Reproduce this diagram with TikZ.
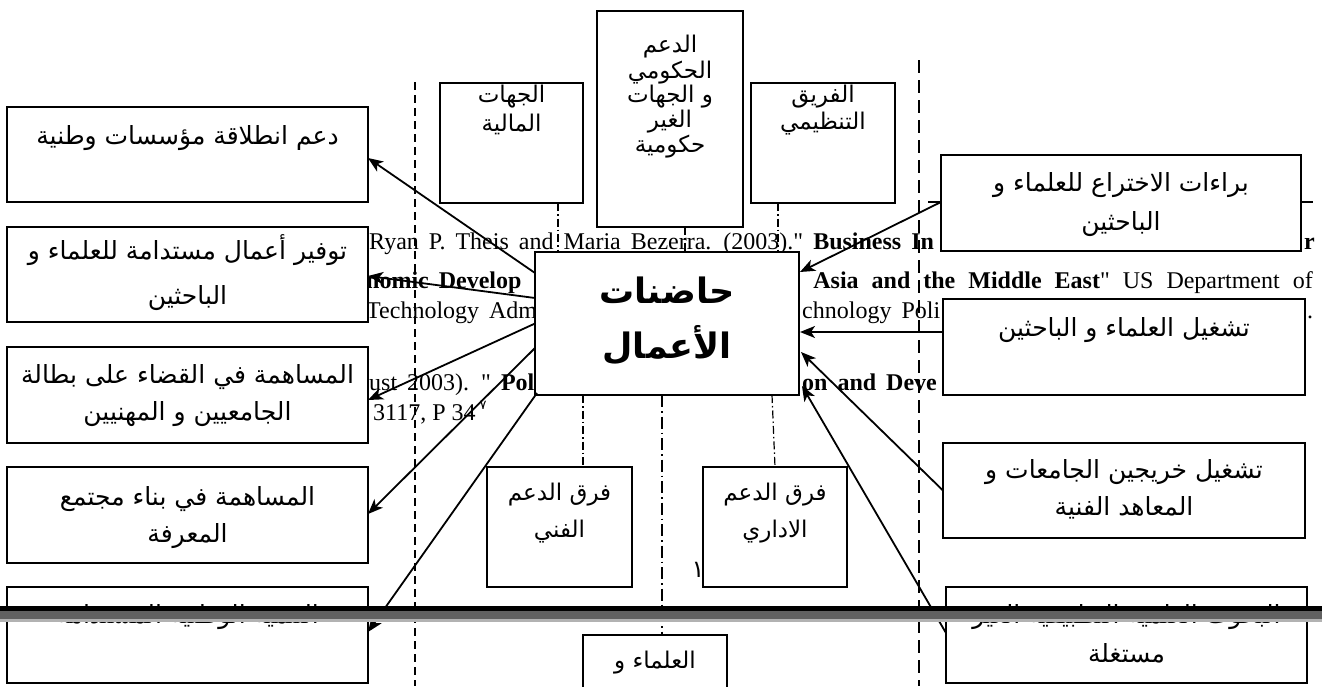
\documentclass[tikz,border=0pt]{standalone}
\usepackage{fontspec}
\setmainfont{Liberation Serif}[Ligatures=TeXOff]
\newfontfamily\arfont[Script=Arabic]{DejaVu Sans}
\TeXXeTstate=1
\usetikzlibrary{arrows.meta,calc}
\pgfdeclarelayer{bg}
\pgfsetlayers{bg,main}
\newcommand\BX[5]{\node[boxst,minimum width={(#4)-(#2)},minimum height={(#5)-(#3)}] (#1) at ({((#2)+(#4))/2},{((#3)+(#5))/2}) {};}
\newcommand\TL[4]{\node[artx] (#1) at (#2,#3) {#4};}
\newcommand\TS[4]{\node[artx,artsm] (#1) at (#2,#3) {#4};}
\begin{document}
\begin{tikzpicture}[x=1pt,y=-1pt,
  boxst/.style={draw,line width=1.6pt,fill=white,inner sep=0pt,outer sep=0pt},
  artx/.style={font={\arfont\fontsize{25}{25}\selectfont},inner sep=0pt,anchor=center},
  artsm/.style={font={\arfont\fontsize{23}{23}\selectfont}},
  en/.style={font={\fontsize{24}{24}\selectfont\spaceskip=10pt\relax},inner sep=0pt,anchor=base west},
  arr/.style={line width=1.8pt,-{Stealth[length=15pt,width=12pt,inset=4pt]}},
  dd/.style={line width=1.2pt,dash pattern=on 8pt off 3pt on 1.5pt off 3pt},
  ddl/.style={line width=1.2pt,dash pattern=on 12pt off 4pt on 1.5pt off 4pt}]
\useasboundingbox (0,0) rectangle (1322,686);

% background: footnote text and stray lines
\begin{pgfonlayer}{bg}
\fill[white] (0,0) rectangle (1322,686);
\node[en] (eA1) at (369,249) {Ryan P. Theis and Maria Bezerra. (2003)." \textbf{Business In}};
\node[en] (eA2) at (1304,249) {\textbf{r}};
\node[en] (eB1) at (366,288) {\textbf{nomic Develop}};
\node[en,anchor=base east,font={\fontsize{24}{24}\selectfont\spaceskip=13pt\relax}] (eB2) at (1313,288) {\textbf{Asia and the Middle East}" US Department of};
\node[en] (eC1) at (366,318) {Technology Adm};
\node[en] (eC2) at (802,318) {chnology Poli};
\node[en] (eC3) at (1307,318) {.};
\node[en] (eD1) at (369,390) {ust 2003). " \textbf{Poli}};
\node[en] (eD2) at (802,390) {\textbf{on and Deve}};
\node[en,font={\fontsize{24}{24}\selectfont}] (eE1) at (373,420) {3117, P 34};
\node[inner sep=0pt,font={\arfont\fontsize{13}{13}\selectfont}] (sup7) at (483,405) {٧};
\node[inner sep=0pt,font={\arfont\fontsize{24}{24}\selectfont}] (one) at (698,570) {١};
\draw[line width=1.5pt] (928,202) -- (1313,202);
\draw[line width=1.1pt,dash pattern=on 8pt off 5pt] (415,82) -- (415,686);
\draw[line width=2pt,dash pattern=on 13pt off 7pt] (919,60) -- (919,686);
\end{pgfonlayer}

% boxes
\BX{b1}{7}{107}{368}{202}
\BX{b2}{7}{227}{368}{322}
\BX{b3}{7}{347}{368}{443}
\BX{b4}{7}{467}{368}{563}
\BX{b5}{7}{587}{368}{683}
\BX{fin}{440}{83}{583}{203}
\BX{gov}{597}{11}{743}{227}
\BX{org}{751}{83}{895}{203}
\BX{r1}{941}{155}{1301}{251}
\BX{r2}{943}{299}{1305}{395}
\BX{r3}{943}{443}{1305}{538}
\BX{r4}{946}{587}{1307}{683}
\BX{tech}{487}{467}{632}{587}
\BX{adm}{703}{467}{847}{587}
\BX{sci}{583}{635}{727}{705}
\BX{hub}{535}{252}{799}{395}

% texts
\TL{t1}{187.5}{138}{\beginR دعم انطلاقة مؤسسات وطنية\endR}
\TL{t2a}{187.5}{250}{\beginR توفير أعمال مستدامة للعلماء و\endR}
\TL{t2b}{187.5}{298}{\beginR الباحثين\endR}
\TL{t3a}{187.5}{377}{\beginR المساهمة في القضاء على بطالة\endR}
\TL{t3b}{187.5}{414}{\beginR الجامعيين و المهنيين\endR}
\TL{t4a}{187.5}{499}{\beginR المساهمة في بناء مجتمع\endR}
\TL{t4b}{187.5}{536}{\beginR المعرفة\endR}
\TL{t5a}{187.5}{617}{\beginR التنمية الوطنية المستدامة\endR}
\TS{tf1}{511.5}{97}{\beginR الجهات\endR}
\TS{tf2}{511.5}{124}{\beginR المالية\endR}
\TS{tg1}{670}{47}{\beginR الدعم\endR}
\TS{tg2}{670}{73}{\beginR الحكومي\endR}
\TS{tg3}{670}{97}{\beginR و الجهات\endR}
\TS{tg4}{670}{122}{\beginR الغير\endR}
\TS{tg5}{670}{147}{\beginR حكومية\endR}
\TS{to1}{823}{97}{\beginR الفريق\endR}
\TS{to2}{823}{124}{\beginR التنظيمي\endR}
\TL{tr1a}{1121}{185}{\beginR براءات الاختراع  للعلماء و\endR}
\TL{tr1b}{1121}{224}{\beginR الباحثين\endR}
\TL{tr2}{1124}{330}{\beginR تشغيل العلماء و الباحثين\endR}
\TL{tr3a}{1124}{472}{\beginR تشغيل خريجين الجامعات و\endR}
\TL{tr3b}{1124}{508}{\beginR المعاهد الفنية\endR}
\TL{tr4a}{1126.5}{617}{\beginR البحوث العلمية التطبيقية الغير\endR}
\TL{tr4b}{1126.5}{653}{\beginR مستغلة\endR}
\TS{tt1}{559.5}{495}{\beginR فرق الدعم\endR}
\TS{tt2}{559.5}{532}{\beginR الفني\endR}
\TS{ta1}{775}{495}{\beginR فرق الدعم\endR}
\TS{ta2}{775}{532}{\beginR الاداري\endR}
\TS{ts1}{655}{663}{\beginR العلماء و\endR}
\node[inner sep=0pt,font={\arfont\bfseries\fontsize{35}{35}\selectfont}] (h1) at (667,290) {\beginR حاضنات\endR};
\node[inner sep=0pt,font={\arfont\bfseries\fontsize{35}{35}\selectfont}] (h2) at (667,345) {\beginR الأعمال\endR};

% vertical link lines
\coordinate (p1) at ($(fin.south east)+(-25,0)$);
\coordinate (p2) at ($(gov.south)+(15,0)$);
\coordinate (p3) at ($(org.south west)+(27,0)$);
\draw[dd] (p1) -- (p1 |- hub.north);
\draw[dd] (p2) -- (p2 |- hub.north);
\draw[dd] (p3) -- (p3 |- hub.north);
\coordinate (q1) at ($(tech.north)+(23.5,0)$);
\coordinate (q2) at ($(sci.north)+(7,0)$);
\coordinate (q3) at ($(hub.south east)+(-27,0)$);
\draw[dd] (q1 |- hub.south) -- (q1);
\draw[ddl] (q2 |- hub.south) -- (q2);
\draw[dd] (q3) -- (adm.north);

% arrows
\draw[arr] ($(hub.north west)+(0,21)$) -- ($(b1.east)+(0,3.5)$);
\draw[arr] ($(hub.north west)+(0,46)$) -- ($(b2.east)+(0,1.5)$);
\draw[arr] (hub.west) -- ($(b3.east)+(0,5)$);
\draw[arr] ($(hub.north west)+(0,96)$) -- ($(b4.east)+(0,-1)$);
\draw[arr] ($(hub.south west)+(2,-2)$) -- ($(b5.east)+(0,-3)$);
\draw[arr] ($(r1.west)+(0,-1)$) -- ($(hub.north east)+(1,20)$);
\draw[arr] ($(r2.west)+(0,-15)$) -- ($(hub.north east)+(1,80)$);
\draw[arr] (r3.west) -- ($(hub.north east)+(2,100)$);
\draw[arr] ($(r4.west)+(0,-2)$) -- ($(hub.north east)+(3,134)$);

% page break bar
\fill[black] (0,606) rectangle (1322,611);
\fill[black!62] (0,611) rectangle (1322,619);
\fill[black!30] (0,619) rectangle (1322,622);
\end{tikzpicture}
\end{document}
